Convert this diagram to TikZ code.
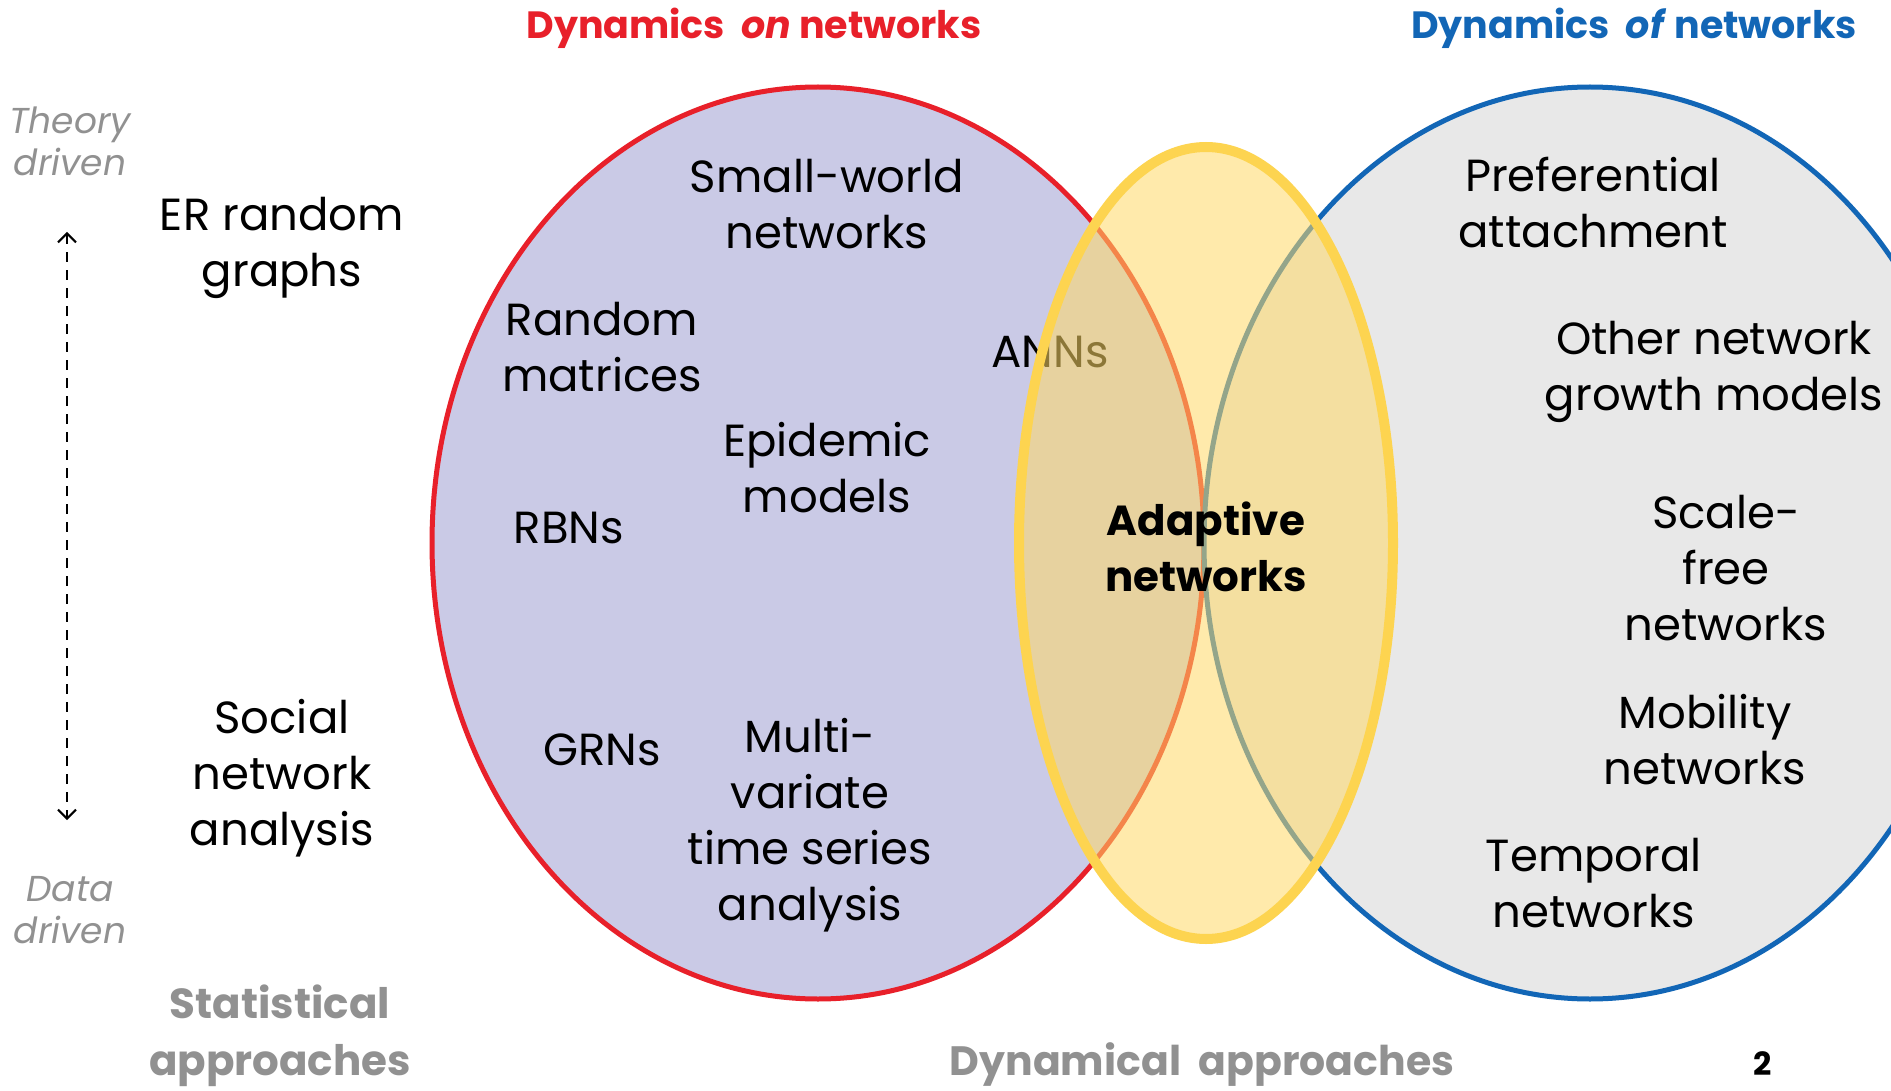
\documentclass[tikz,border=0pt]{standalone}
\usepackage{fontspec}
\setmainfont{Poppins}
\usetikzlibrary{arrows.meta}
\definecolor{redline}{RGB}{232,32,42}
\definecolor{lavender}{RGB}{202,202,230}
\definecolor{blueline}{RGB}{18,102,182}
\definecolor{greyfill}{RGB}{232,232,232}
\definecolor{yelline}{RGB}{253,212,80}
\definecolor{yelfill}{RGB}{255,217,102}
\definecolor{greytext}{RGB}{145,145,145}
\begin{document}
\begin{tikzpicture}[x=1pt,y=-1pt,
  txt/.style={align=center,inner sep=0pt,font=\fontsize{45}{56}\selectfont},
  side/.style={align=center,inner sep=0pt,text=greytext,font=\fontsize{36}{42}\selectfont\itshape},
  approach/.style={align=center,inner sep=0pt,text=greytext,font=\fontsize{42}{57}\selectfont\bfseries},
  head/.style={inner sep=0pt,font=\fontsize{38}{48}\selectfont\bfseries}]
\useasboundingbox (0,0) rectangle (1891,1091);
\clip (0,0) rectangle (1891,1091);
\fill[white] (0,0) rectangle (1891,1091);
% main sets
\draw[redline,line width=5pt,fill=lavender] (818,543) ellipse [x radius=386pt,y radius=456pt];
\draw[blueline,line width=5pt,fill=greyfill] (1590,543) ellipse [x radius=386pt,y radius=456pt];
% headers
\node[head,text=redline] (hon) at (754,28) {Dynamics\ \ \textit{on} networks};
\node[head,text=blueline] (hof) at (1634,28) {Dynamics\ \ \textit{of} networks};
% left axis
\node[side] (theory) at (70,141) {Theory\\driven};
\node[side] (data) at (70,910) {Data\\driven};
\coordinate (atop) at (67,232);
\coordinate (abot) at (67,820);
\draw[line width=2pt,dash pattern=on 10pt off 8pt,{Straight Barb[length=9pt,width=18pt]}-{Straight Barb[length=9pt,width=18pt]}] (atop) -- (abot);
\node[txt] (er) at (282,248) {ER random\\graphs};
\node[txt] (sna) at (282,778) {Social\\network\\analysis};
\node[approach] (stat) at (280,1036) {Statistical\\approaches};
\node[approach,font=\fontsize{41}{50}\selectfont\bfseries] (dyn) at (1202,1065) {Dynamical\ \ approaches};
\node[inner sep=0pt,font=\fontsize{32}{40}\selectfont\bfseries] (pg) at (1763,1064) {2};
% left set items
\node[txt] (sw) at (827,204) {Small-world\\networks};
\node[txt] (rm) at (602,347) {Random\\matrices};
\node[txt] (ann) at (1050,352) {ANNs};
\node[txt] (epi) at (827,468) {Epidemic\\models};
\node[txt] (rbn) at (569,528) {RBNs};
\node[txt] (grn) at (602,750) {GRNs};
\node[txt] (mts) at (810,825) {Multi-\\variate\\time series\\analysis};
% right set items
\node[txt] (pa) at (1593,203) {Preferential\\attachment};
\node[txt] (ogm) at (1714,372) {Other network\\growth models};
\node[txt] (sf) at (1726,568) {Scale-\\free\\networks};
\node[txt] (mob) at (1705,740) {Mobility\\networks};
\node[txt] (tmp) at (1594,883) {Temporal\\networks};
% adaptive overlap
\draw[yelline,line width=10pt,fill=yelfill,fill opacity=0.55] (1206,543) ellipse [x radius=187pt,y radius=396pt];
\node[txt,font=\fontsize{42}{56}\selectfont\bfseries] (adapt) at (1206,547) {Adaptive\\networks};
\end{tikzpicture}
\end{document}
